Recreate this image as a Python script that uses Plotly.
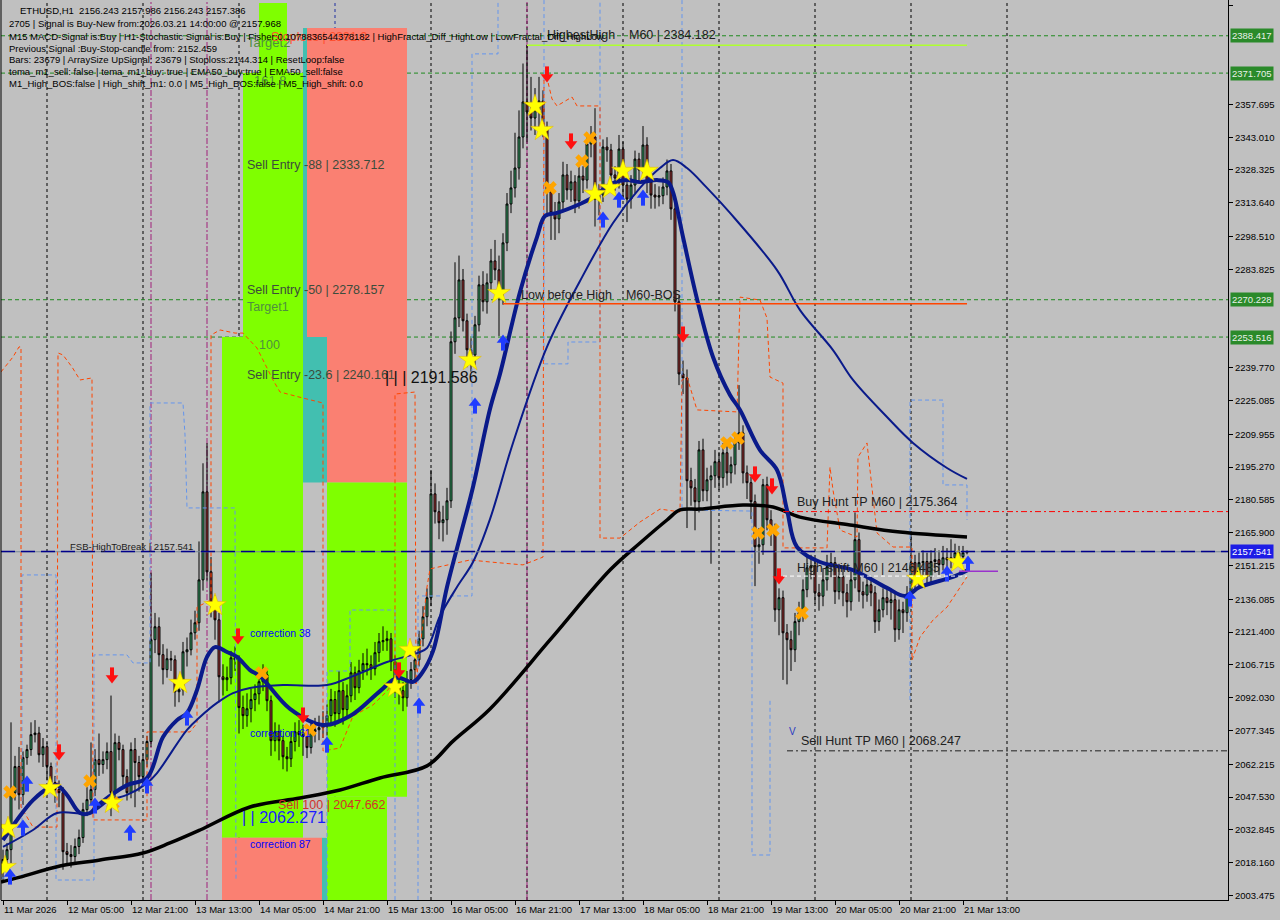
import plotly.graph_objects as go

# ---------------- candle data (H1, index 0 = 11 Mar 13:00) ----------------
FIRST_OPEN = 2015.0
CLOSE = [2019.6, 2024.0, 2049.5, 2061.2, 2048.6, 2065.2, 2068.8, 2075.5, 2076.2, 2066.5,
 2070.1, 2061.2, 2054.0, 2050.9, 2049.5, 2023.1, 2021.8, 2020.9, 2025.4, 2029.4,
 2041.9, 2046.4, 2050.9, 2064.3, 2062.1, 2064.3, 2067.9, 2049.5, 2071.9, 2068.8,
 2056.7, 2049.5, 2068.8, 2063.0, 2056.7, 2064.3, 2072.4, 2118.0, 2123.8, 2111.3,
 2104.6, 2109.5, 2109.0, 2094.7, 2095.6, 2112.6, 2113.5, 2121.1, 2125.6, 2144.8,
 2184.2, 2148.4, 2133.7, 2126.9, 2101.4, 2100.1, 2101.0, 2109.9, 2109.0, 2087.6,
 2084.0, 2087.1, 2091.2, 2093.8, 2099.2, 2102.3, 2090.7, 2072.8, 2076.8, 2072.8,
 2065.6, 2064.7, 2072.4, 2076.8, 2075.5, 2074.6, 2069.7, 2076.8, 2077.7, 2078.6,
 2079.5, 2084.0, 2091.2, 2084.9, 2095.2, 2086.7, 2092.9, 2103.2, 2096.5, 2104.1,
 2107.3, 2106.8, 2105.0, 2112.2, 2117.1, 2117.6, 2118.4, 2108.2, 2097.9, 2095.2,
 2092.0, 2100.1, 2104.6, 2109.0, 2118.4, 2128.3, 2136.8, 2183.3, 2175.3, 2170.4,
 2171.7, 2180.2, 2251.4, 2262.1, 2279.1, 2260.8, 2247.8, 2245.5, 2259.0, 2276.9,
 2269.3, 2277.8, 2287.6, 2283.6, 2273.7, 2295.7, 2313.1, 2320.3, 2329.2, 2343.1,
 2358.8, 2354.3, 2351.6, 2355.2, 2359.2, 2347.1, 2318.5, 2309.1, 2306.4, 2314.0,
 2326.1, 2319.4, 2323.0, 2314.5, 2325.6, 2323.8, 2340.0, 2343.1, 2315.3, 2317.1,
 2338.6, 2337.3, 2326.1, 2324.7, 2337.7, 2321.6, 2315.3, 2321.6, 2333.2, 2328.3,
 2339.5, 2323.0, 2317.1, 2316.2, 2316.8, 2320.7, 2327.9, 2310.9, 2269.3, 2237.0,
 2235.2, 2189.2, 2186.0, 2179.8, 2203.0, 2184.7, 2189.6, 2191.4, 2197.7, 2190.5,
 2201.7, 2192.7, 2196.3, 2206.2, 2210.6, 2192.7, 2188.3, 2179.8, 2159.6, 2160.5,
 2187.4, 2171.7, 2165.9, 2131.4, 2136.8, 2121.1, 2118.0, 2113.5, 2126.1, 2130.1,
 2140.4, 2150.2, 2151.1, 2139.0, 2137.5, 2144.8, 2150.7, 2152.5, 2139.5, 2146.2,
 2139.0, 2135.0, 2144.8, 2162.8, 2139.5, 2138.0, 2142.6, 2139.0, 2126.1, 2131.4,
 2136.8, 2134.6, 2135.9, 2122.5, 2131.4, 2130.1, 2137.2, 2152.5, 2144.8, 2152.5,
 2153.0, 2146.2, 2153.0, 2153.8, 2151.6, 2154.7, 2153.8, 2154.7, 2157.0, 2155.2,
 2157.0, 2157.386]
HIGH = [2024, 2027, 2081, 2066, 2070, 2068, 2071, 2081, 2082, 2079,
 2074, 2072, 2063, 2057, 2055, 2052, 2027, 2026, 2029, 2033,
 2045, 2052, 2072, 2069, 2076, 2068, 2072, 2093, 2076, 2075,
 2071, 2060, 2072, 2074, 2066, 2067, 2075, 2148, 2130, 2128,
 2116, 2114, 2113, 2111, 2101, 2117, 2119, 2127, 2131, 2162,
 2197, 2206, 2155, 2138, 2130, 2107, 2106, 2113, 2115, 2111,
 2093, 2094, 2096, 2098, 2104, 2107, 2105, 2093, 2081, 2080,
 2075, 2070, 2077, 2081, 2082, 2080, 2078, 2081, 2083, 2084,
 2086, 2089, 2096, 2095, 2104, 2099, 2098, 2108, 2106, 2109,
 2112, 2114, 2111, 2117, 2121, 2124, 2122, 2121, 2111, 2103,
 2099, 2104, 2108, 2113, 2122, 2133, 2141, 2194, 2188, 2180,
 2178, 2186, 2256, 2287, 2290, 2284, 2264, 2253, 2263, 2281,
 2283, 2282, 2293, 2297, 2290, 2300, 2318, 2328, 2345, 2355,
 2376, 2384.2, 2370, 2365, 2370, 2364, 2350, 2322, 2314, 2318,
 2332, 2331, 2328, 2326, 2330, 2330, 2345, 2348, 2356, 2322,
 2342, 2343, 2340, 2330, 2344, 2341, 2325, 2326, 2337, 2336,
 2348, 2343, 2326, 2322, 2321, 2325, 2333, 2331, 2314, 2272,
 2243, 2239, 2195, 2190, 2207, 2208, 2195, 2196, 2203, 2202,
 2206, 2205, 2200, 2210, 2232, 2214, 2196, 2191, 2183, 2168,
 2190, 2191, 2176, 2170, 2141, 2140, 2125, 2122, 2130, 2135,
 2145, 2155, 2156, 2154, 2143, 2150, 2156, 2157, 2155, 2152,
 2150, 2143, 2149, 2175, 2166, 2144, 2147, 2146, 2142, 2136,
 2141, 2142, 2140, 2139, 2136, 2135, 2142, 2166, 2156, 2157,
 2158, 2157, 2158, 2159, 2158, 2160, 2159, 2163, 2161, 2160,
 2160, 2157.986]
LOW = [2010, 2016, 2018, 2046, 2042, 2044, 2062, 2066, 2072, 2063,
 2061, 2055, 2050, 2045, 2043, 2015, 2017, 2016, 2018, 2022,
 2027, 2039, 2044, 2048, 2057, 2058, 2060, 2039, 2046, 2064,
 2052, 2046, 2047, 2043, 2050, 2053, 2061, 2070, 2112, 2106,
 2098, 2101, 2104, 2088, 2090, 2093, 2106, 2111, 2118, 2122,
 2140, 2144, 2128, 2118, 2090, 2093, 2095, 2098, 2104, 2076,
 2078, 2079, 2081, 2086, 2089, 2095, 2086, 2066, 2068, 2064,
 2060, 2059, 2061, 2068, 2070, 2066, 2065, 2067, 2072, 2073,
 2074, 2075, 2080, 2079, 2081, 2080, 2083, 2090, 2091, 2094,
 2100, 2102, 2100, 2102, 2108, 2113, 2113, 2104, 2092, 2089,
 2086, 2088, 2096, 2100, 2106, 2115, 2124, 2133, 2170, 2163,
 2162, 2165, 2177, 2246, 2258, 2256, 2240, 2238, 2241, 2256,
 2265, 2264, 2274, 2279, 2254, 2268, 2292, 2309, 2316, 2324,
 2338, 2341, 2346, 2344, 2347, 2343, 2308, 2297, 2297, 2300,
 2310, 2315, 2314, 2309, 2311, 2318, 2320, 2334, 2303, 2308,
 2314, 2332, 2321, 2319, 2320, 2316, 2305, 2311, 2318, 2323,
 2325, 2318, 2311, 2311, 2312, 2313, 2317, 2306, 2265, 2232,
 2228, 2168, 2178, 2167, 2175, 2180, 2180, 2152, 2186, 2185,
 2186, 2187, 2188, 2192, 2203, 2188, 2181, 2172, 2142, 2152,
 2156, 2167, 2160, 2126, 2120, 2100, 2098, 2104, 2108, 2120,
 2126, 2137, 2145, 2134, 2131, 2133, 2140, 2146, 2134, 2136,
 2133, 2128, 2131, 2141, 2135, 2132, 2135, 2133, 2121, 2122,
 2128, 2129, 2127, 2117, 2118, 2121, 2126, 2134, 2140, 2142,
 2147, 2142, 2143, 2148, 2147, 2149, 2149, 2150, 2152, 2151,
 2152, 2156.243]

X_TICK_IDX = [0, 16, 32, 48, 64, 80, 96, 112, 128, 144, 160, 176, 192, 208, 224, 240]
X_TICK_LABELS = ["11 Mar 2026", "12 Mar 05:00", "12 Mar 21:00", "13 Mar 13:00", "14 Mar 05:00",
                 "14 Mar 21:00", "15 Mar 13:00", "16 Mar 05:00", "16 Mar 21:00", "17 Mar 13:00",
                 "18 Mar 05:00", "18 Mar 21:00", "19 Mar 13:00", "20 Mar 05:00", "20 Mar 21:00",
                 "21 Mar 13:00"]
Y_TICKS = [2402.195, 2357.695, 2343.010, 2328.325, 2313.640, 2298.510, 2283.825, 2239.770,
           2225.085, 2209.955, 2195.270, 2180.585, 2165.900, 2151.215, 2136.085, 2121.400,
           2106.715, 2092.030, 2077.345, 2062.215, 2047.530, 2032.845, 2018.160, 2003.475]

# ---------------- indicator lines ----------------
FAST_I = [0, 3.5, 7.5, 11.75, 13.5, 16, 19.25, 21.75, 23.5, 31, 36, 40, 43.5, 46, 48.5, 51, 53, 56,
          58.5, 61.75, 64.25, 71.75, 80, 86.75, 94.25, 98.5, 102.5, 104.75, 107.5, 111, 114.25,
          117.5, 121.75, 124.25, 129.25, 133.5, 135.5, 138.5, 144.25, 146.75, 152.5, 156, 159.25,
          163.5, 166.25, 167.5, 170, 173.5, 177.5, 181.75, 184.25, 189.25, 193.5, 196, 198.5,
          204.25, 212.5, 221, 225.5, 229.25, 237.5, 241.25]
FAST_P = [2028.3, 2037.3, 2046.2, 2052.0, 2052.9, 2048.5, 2040.4, 2040.4, 2043.5, 2052.9, 2056.1,
          2074.4, 2082.0, 2085.2, 2095.5, 2110.3, 2114.7, 2112.5, 2110.3, 2104.4, 2101.7, 2087.0,
          2079.8, 2083.8, 2095.0, 2100.9, 2099.1, 2103.1, 2112.9, 2141.6, 2164.0, 2186.4, 2221.3,
          2237.0, 2273.7, 2298.3, 2307.7, 2309.1, 2313.1, 2315.3, 2322.5, 2323.8, 2322.9, 2323.8,
          2322.9, 2318.4, 2298.3, 2270.6, 2244.6, 2227.6, 2220.9, 2202.9, 2194.0, 2176.1, 2159.5,
          2152.8, 2149.2, 2141.2, 2137.6, 2141.6, 2146.1, 2149.2]
SLOW_I = [0, 7.5, 13.5, 21.75, 26.75, 31, 36, 38.5, 46, 49.25, 53.5, 57.5, 61.75, 70, 81, 87.5,
          96, 103.5, 106, 109.25, 113.5, 117.5, 121.75, 127.5, 136, 144.25, 152.5, 159.25, 164.25,
          167.5, 171, 176, 181.75, 193.5, 199.25, 207.5, 212.5, 221, 227.5, 236, 241]
SLOW_P = [2025.2, 2032.8, 2040.4, 2040.4, 2046.2, 2048.5, 2053.8, 2058.3, 2077.6, 2083.4, 2089.7,
          2094.1, 2096.4, 2097.7, 2097.7, 2101.7, 2108.0, 2112.0, 2114.3, 2128.6, 2141.6, 2152.8,
          2172.0, 2206.1, 2249.1, 2278.6, 2304.6, 2320.3, 2329.2, 2332.8, 2329.2, 2320.3, 2309.1,
          2283.5, 2265.6, 2247.7, 2234.3, 2217.7, 2206.1, 2194.9, 2190.0]
MA200_I = [-0.5, 4.25, 14.25, 24.25, 35, 41.75, 49.25, 61.75, 74.25, 84.25, 94.25, 106, 112.5,
           121.75, 136.75, 151.75, 159.25, 166, 169.25, 174.25, 185, 192.5, 199.25, 211.75,
           224.25, 241]
MA200_P = [2009.5, 2011.7, 2016.7, 2019.4, 2022.5, 2027.0, 2032.8, 2043.1, 2047.1, 2050.7, 2056.1,
           2061.5, 2072.6, 2087.0, 2117.9, 2149.2, 2161.3, 2171.6, 2176.1, 2176.5, 2178.3, 2177.4,
           2172.9, 2169.4, 2166.2, 2164.0]
ENV_I = [-0.5, 2.5, 4, 4.5, 4.5, 7.5, 13.5, 13.75, 15, 17.25, 19.25, 22.25, 22.5, 36, 36, 46.75,
         48.5, 48.5, 52, 52, 54.25, 58, 60, 63.5, 67.5, 69.25, 75, 80, 80, 84.25, 87.5, 92.5, 96,
         98, 98, 103, 103.25, 106, 106.75, 116.75, 121.75, 130, 135, 135.25, 136, 137.25, 138.5,
         142.25, 143.5, 149.25, 149.25, 154.25, 159.25, 164.25, 169.25, 169.75, 171, 173.5,
         183.5, 184.25, 189.25, 191, 191.75, 195, 195, 206, 206.75, 207.5, 209.25, 213.5, 213.75,
         216, 218.5, 222.5, 227.25, 227.25, 229.25, 232.5, 236, 239.25, 241]
ENV_P = [2237.9, 2244.6, 2249.1, 2249.1, 2043.1, 2034.1, 2034.1, 2246.4, 2245.5, 2240.1, 2234.3,
         2235.2, 2037.3, 2037.3, 2076.7, 2076.7, 2080.7, 2132.6, 2135.8, 2254.4, 2256.7, 2255.3,
         2255.3, 2248.6, 2234.3, 2228.9, 2226.2, 2224.0, 2068.2, 2069.5, 2083.8, 2088.8, 2095.0,
         2099.9, 2228.0, 2228.9, 2098.2, 2141.6, 2149.7, 2153.7, 2152.8, 2151.5, 2155.0, 2369.5,
         2369.5, 2360.1, 2357.0, 2361.0, 2357.0, 2357.0, 2163.5, 2163.5, 2170.7, 2176.5, 2175.2,
         2234.3, 2235.6, 2220.9, 2220.0, 2271.4, 2270.1, 2262.0, 2235.6, 2232.9, 2159.1, 2159.1,
         2195.3, 2185.0, 2167.1, 2164.0, 2199.8, 2206.1, 2165.8, 2159.5, 2159.5, 2108.9, 2119.2,
         2126.8, 2132.6, 2141.6, 2146.1]
STEP_I = [-0.5, 4.75, 4.75, 13.25, 13.25, 22.75, 22.75, 31, 32.5, 35, 36.75, 36.75, 45, 45.5, 46,
          58, 58.25, None, 81, 81, 86.75, 86.75, 98, 98, None, 103.75, 103.75, 117.25, 117.25,
          123.75, 123.75, None, 135.25, 135.25, 141.25, 141.25, 149.25, 149.25, None, 169.75,
          169.75, 187.25, 187.25, 191.75, 191.75, None, 226.75, 226.75, 235, 235, 241, 241]
STEP_P = [2011.3, 2011.3, 2147.0, 2147.0, 2010.4, 2010.4, 2111.2, 2111.2, 2107.6, 2107.6, 2107.6,
          2224.0, 2224.0, 2209.7, 2177.0, 2177.0, 2010.4, None, 2001.5, 2104.0, 2104.0, 2131.3,
          2131.3, 2001.5, None, 2001.5, 2137.6, 2137.6, 2380.3, 2380.3, 2404.4, None, 2404.4,
          2241.5, 2241.5, 2251.3, 2251.3, 2404.4, None, 2404.4, 2176.1, 2175.6, 2021.6, 2021.6,
          2091.0, None, 2091.0, 2225.3, 2225.3, 2187.3, 2187.3, 2171.6]

# ---------------- signal markers ----------------
STAR_I = [1.25, 0.5, 11.75, 27.25, 44.25, 53, 98, 101.75, 116.75, 124, 133, 134.75, 148, 151.75,
          155, 161, 228.75, 238.75]
STAR_P = [2033.7, 2016.2, 2051.6, 2044.9, 2098.6, 2133.5, 2096.8, 2113.4, 2243.2, 2273.2, 2357.0,
          2346.2, 2317.6, 2320.3, 2327.9, 2327.9, 2145.2, 2152.8]
CROSS_I = [1.75, 21.75, 27.5, 64.75, 76.75, 136.75, 144.75, 146.75, 181, 183.75, 188.75, 192.5, 199.75]
CROSS_P = [2049.8, 2054.7, 2044.9, 2103.1, 2077.6, 2320.3, 2332.3, 2342.6, 2206.1, 2208.3, 2165.8,
           2167.1, 2130.0]
UP_I = [1.75, 5, 6, 23, 31.75, 36, 46, 81, 104, 118, 125, 150, 154, 160, 226.75, 236, 241.25]
UP_P = [2012.2, 2034.1, 2053.8, 2044.0, 2031.9, 2053.0, 2083.4, 2071.3, 2088.8, 2223.1, 2251.3,
        2306.4, 2315.3, 2316.2, 2136.7, 2147.9, 2152.4]
DOWN_I = [14, 27.25, 58.75, 75, 99, 136, 142, 170, 188, 192.25, 194]
DOWN_P = [2067.3, 2101.75, 2119.2, 2083.8, 2104.0, 2370.85, 2340.85, 2254.4, 2191.75, 2186.4, 2146.1]

# ---------------- levels ----------------
GREEN_LEVELS = [2388.417, 2371.705, 2270.228, 2253.516]
FSB_LEVEL = 2157.541
BID = 2157.386
BUY_HUNT = 2175.364
SELL_HUNT = 2068.247
HIGH_SHIFT = 2146.485
BOS_LEVEL = 2268.4
HIGHEST_HIGH = 2384.182
PURPLE_LEVEL = 2148.6

# zones: (i0, i1, top, bottom, colour)
ZONES = [
    (64, 71, 2403.1, 2371.705, "#7FFF00"),
    (60, 75, 2371.705, 2253.516, "#7FFF00"),
    (54.75, 75, 2253.516, 2029.3, "#7FFF00"),
    (75, 76, 2391.9, 2253.516, "#42BFB0"),
    (75, 81, 2253.516, 2188.4, "#42BFB0"),
    (76, 101, 2391.9, 2253.516, "#FA8072"),
    (81, 101, 2253.516, 2188.4, "#FA8072"),
    (81, 101, 2188.4, 2047.662, "#7FFF00"),
    (81, 96, 2047.662, 1995.0, "#7FFF00"),
    (54.75, 79.75, 2029.3, 1995.0, "#FA8072"),
    (79.75, 81, 2029.3, 1995.0, "#42BFB0"),
]
DAY_SEP_IDX = [11, 35, 59, 83, 107, 131, 155, 179, 203, 227, 251]
MAGENTA_IDX = [37, 51, 131]

N = len(CLOSE)
IDX = list(range(N))
OPEN = [FIRST_OPEN] + CLOSE[:-1]

XR = [-0.5, 306.25]
YR = [2001.455, 2404.434]
FONT = "Liberation Sans"
PX = (YR[1] - YR[0]) / 900.0   # price units per screen pixel (for marker styling offsets)

fig = go.Figure()

# zones
for i0, i1, top, bot, col in ZONES:
    fig.add_shape(type="rect", xref="x", yref="y", x0=i0, x1=i1, y0=bot, y1=top,
                  fillcolor=col, line=dict(width=0), layer="below")

# vertical separators
for d in DAY_SEP_IDX:
    col = "#1f2fa0" if d == 83 else "black"
    fig.add_shape(type="line", xref="x", yref="paper", x0=d, x1=d, y0=0, y1=1,
                  line=dict(color=col, width=1, dash="3px,3px"), layer="below")
for d in MAGENTA_IDX:
    fig.add_shape(type="line", xref="x", yref="paper", x0=d, x1=d, y0=0, y1=1,
                  line=dict(color="#a0207a", width=1, dash="6px,2px,2px,2px"), layer="below")

# horizontal levels
for lv in GREEN_LEVELS:
    fig.add_shape(type="line", xref="paper", yref="y", x0=0, x1=1, y0=lv, y1=lv,
                  line=dict(color="#1f8a1f", width=1, dash="4px,3px"), layer="below")
fig.add_shape(type="line", xref="paper", yref="y", x0=0, x1=1, y0=BID, y1=BID,
              line=dict(color="#778899", width=1))
fig.add_shape(type="line", xref="paper", yref="y", x0=0, x1=1, y0=FSB_LEVEL, y1=FSB_LEVEL,
              line=dict(color="#00008b", width=1.5, dash="14px,6px"))
fig.add_shape(type="line", xref="x", yref="y", x0=195, x1=XR[1], y0=BUY_HUNT, y1=BUY_HUNT,
              line=dict(color="#ff0000", width=1, dash="6px,3px,2px,3px"))
fig.add_shape(type="line", xref="x", yref="y", x0=196, x1=XR[1], y0=SELL_HUNT, y1=SELL_HUNT,
              line=dict(color="#202020", width=1, dash="6px,3px,2px,3px"))
fig.add_shape(type="line", xref="x", yref="y", x0=195, x1=241, y0=HIGH_SHIFT, y1=HIGH_SHIFT,
              line=dict(color="#ffffff", width=1, dash="4px,3px"))
fig.add_shape(type="line", xref="x", yref="y", x0=239, x1=248.75, y0=PURPLE_LEVEL, y1=PURPLE_LEVEL,
              line=dict(color="#9932cc", width=1.5))
fig.add_shape(type="line", xref="x", yref="y", x0=125, x1=241, y0=BOS_LEVEL, y1=BOS_LEVEL,
              line=dict(color="#ff4500", width=1.5))
fig.add_shape(type="line", xref="x", yref="y", x0=131, x1=241, y0=HIGHEST_HIGH, y1=HIGHEST_HIGH,
              line=dict(color="#adff2f", width=1.5))
# left border
fig.add_shape(type="line", xref="paper", yref="paper", x0=0, x1=0, y0=0, y1=1,
              line=dict(color="black", width=1))

# step / envelope lines
fig.add_trace(go.Scatter(x=STEP_I, y=STEP_P, mode="lines", connectgaps=False,
                         line=dict(color="#6495ed", width=1, dash="4px,3px"), hoverinfo="skip"))
fig.add_trace(go.Scatter(x=ENV_I, y=ENV_P, mode="lines",
                         line=dict(color="#ff4500", width=1, dash="4px,3px"), hoverinfo="skip"))

# candles
fig.add_trace(go.Candlestick(
    x=IDX, open=OPEN, high=HIGH, low=LOW, close=CLOSE,
    increasing=dict(line=dict(color="black", width=1), fillcolor="#3cb371"),
    decreasing=dict(line=dict(color="black", width=1), fillcolor="#b03a3a"),
    whiskerwidth=0, hoverinfo="skip"))

# moving averages
fig.add_trace(go.Scatter(x=MA200_I, y=MA200_P, mode="lines", line=dict(color="black", width=3.5, shape="spline"), hoverinfo="skip"))
fig.add_trace(go.Scatter(x=SLOW_I, y=SLOW_P, mode="lines", line=dict(color="#0a1a8a", width=2, shape="spline"), hoverinfo="skip"))
fig.add_trace(go.Scatter(x=FAST_I, y=FAST_P, mode="lines", line=dict(color="#0a1a8a", width=4, shape="spline"), hoverinfo="skip"))

# markers
fig.add_trace(go.Scatter(x=CROSS_I, y=CROSS_P, mode="markers",
                         marker=dict(symbol="x", size=12, color="#ffa500", line=dict(width=0)), hoverinfo="skip"))
fig.add_trace(go.Scatter(x=STAR_I, y=STAR_P, mode="markers",
                         marker=dict(symbol="star", size=17, color="#ffff00", line=dict(color="#e0b000", width=0.5)), hoverinfo="skip"))
# block arrows: head triangle + stem
fig.add_trace(go.Scatter(x=UP_I, y=[p - 3 * PX for p in UP_P], mode="markers",
                         marker=dict(symbol="line-ns", size=8, line=dict(color="#1f3cff", width=4)), hoverinfo="skip"))
fig.add_trace(go.Scatter(x=UP_I, y=[p + 2 * PX for p in UP_P], mode="markers",
                         marker=dict(symbol="triangle-up", size=11, color="#1f3cff", line=dict(width=0)), hoverinfo="skip"))
fig.add_trace(go.Scatter(x=DOWN_I, y=[p + 3 * PX for p in DOWN_P], mode="markers",
                         marker=dict(symbol="line-ns", size=8, line=dict(color="#ff1010", width=4)), hoverinfo="skip"))
fig.add_trace(go.Scatter(x=DOWN_I, y=[p - 2 * PX for p in DOWN_P], mode="markers",
                         marker=dict(symbol="triangle-down", size=11, color="#ff1010", line=dict(width=0)), hoverinfo="skip"))

# ---------------- text ----------------
def ptxt(px, py, text, size=9.5, color="black"):
    fig.add_annotation(xref="paper", yref="paper", x=(px - 1) / 1227.0, y=1 - py / 900.0,
                       text=text, showarrow=False, xanchor="left", yanchor="middle",
                       font=dict(family=FONT, size=size, color=color))

def dtxt(i, p, text, size=12.5, color="#202020"):
    fig.add_annotation(xref="x", yref="y", x=i, y=p, text=text, showarrow=False,
                       xanchor="left", yanchor="middle", font=dict(family=FONT, size=size, color=color))

HEADER = [
    (18, 10.7, "ETHUSD,H1  2156.243 2157.986 2156.243 2157.386"),
    (7, 24, "2705 | Signal is Buy-New from:2026.03.21 14:00:00 @ 2157.968"),
    (7, 36, "M15 MACD-Signal is:Buy | H1-Stochastic Signal is:Buy | Fisher:0.1078836544378182 | HighFractal_Diff_HighLow | LowFractal_Diff_HighLow"),
    (7, 48, "Previous Signal :Buy-Stop-candle from: 2152.459"),
    (7, 60, "Bars: 23679 | ArraySize UpSignal: 23679 | Stoploss:2144.314 | ResetLoop:false"),
    (7, 72, "tema_m1_sell: false | tema_m1_buy: true | EMA50_buy:true | EMA50_sell:false"),
    (7, 83.5, "M1_High_BOS:false | High_shift_m1: 0.0 | M5_High_BOS:false | M5_High_shift: 0.0"),
]

GREEN_TXT = "#4f8f3f"
ENTRY_TXT = "#3c4c3c"
dtxt(60.5, 2385.2, "Target2", 13, GREEN_TXT)
dtxt(62.25, 2368.6, "161.8", 13, GREEN_TXT)
dtxt(60.5, 2330.55, "Sell Entry -88 | 2333.712", 12.5, ENTRY_TXT)
dtxt(60.5, 2274.6, "Sell Entry -50 | 2278.157", 12.5, ENTRY_TXT)
dtxt(60.5, 2267.0, "Target1", 12.5, GREEN_TXT)
dtxt(63.5, 2250.0, "100", 12.5, GREEN_TXT)
dtxt(60.5, 2236.5, "Sell Entry -23.6 | 2240.161", 12.5, ENTRY_TXT)
dtxt(95, 2235.6, "| | | 2191.586", 16, "#101010")
dtxt(61.25, 2121.0, "correction 38", 10.5, "#0000ff")
dtxt(61.25, 2076.2, "correction 61", 10.5, "#0000ff")
dtxt(61.25, 2026.5, "correction 87", 10.5, "#0000ff")
dtxt(68.25, 2044.0, "Sell 100 | 2047.662", 12.5, "#d2332a")
dtxt(59.25, 2038.2, "| | 2062.271", 16, "#1a1aff")
dtxt(16.25, 2159.96, "FSB-HighToBreak | 2157.541", 9.5, "#202020")
dtxt(198, 2179.66, "Buy Hunt TP M60 | 2175.364", 12.5, "#202020")
dtxt(198, 2150.1, "High-shift M60 | 2146.485", 12.5, "#202020")
dtxt(199, 2072.6, "Sell Hunt TP M60 | 2068.247", 12.5, "#202020")
dtxt(129, 2272.3, "Low before High    M60-BOS", 12.5, "#202020")
dtxt(135.5, 2388.8, "HighestHigh    M60 | 2384.182", 12.5, "#202020")
dtxt(196, 2076.7, "V", 10, "#2a3ac0")
dtxt(66.5, 2387.9, "Stoploss | 2391.9", 12.5, "#ff5030")

for px, py, t in HEADER:
    ptxt(px, py, t)

# x labels, left aligned at ticks
for i, lab in zip(X_TICK_IDX, X_TICK_LABELS):
    fig.add_annotation(xref="x", yref="paper", x=i - 0.3, y=0, yshift=-2, text=lab, showarrow=False,
                       xanchor="left", yanchor="top", font=dict(family=FONT, size=9.5, color="black"))

# right axis coloured labels
def rlabel(p, text, bg, fg):
    fig.add_annotation(xref="paper", yref="y", x=1, y=p, xshift=2, text=text, showarrow=False,
                       xanchor="left", yanchor="middle", bgcolor=bg, borderpad=1,
                       font=dict(family=FONT, size=9.5, color=fg))

for lv in GREEN_LEVELS:
    rlabel(lv, f"{lv:.3f}", "#2a8a2a", "#e8f0e8")
rlabel(FSB_LEVEL, f"{FSB_LEVEL:.3f}", "#1c1ce6", "white")

fig.update_layout(
    width=1280, height=920,
    margin=dict(l=1, r=52, t=0, b=20),
    paper_bgcolor="#c0c0c0", plot_bgcolor="#c0c0c0",
    showlegend=False,
    xaxis=dict(range=XR, showgrid=False, zeroline=False, showline=True, linecolor="black",
               ticks="outside", ticklen=4, tickcolor="black", tickvals=X_TICK_IDX,
               showticklabels=False, rangeslider=dict(visible=False), fixedrange=True),
    yaxis=dict(range=YR, side="right", showgrid=False, zeroline=False, showline=True,
               linecolor="black", ticks="outside", ticklen=4, tickcolor="black",
               tickvals=Y_TICKS, ticktext=[f"{v:.3f}" for v in Y_TICKS],
               tickfont=dict(family=FONT, size=9.5, color="black"), fixedrange=True),
)

fig.write_html("out.html",
               config={"displayModeBar": False, "staticPlot": True},
               post_script="document.body.style.margin='0';document.body.style.padding='0';"
                           "document.body.style.background='#c0c0c0';")
